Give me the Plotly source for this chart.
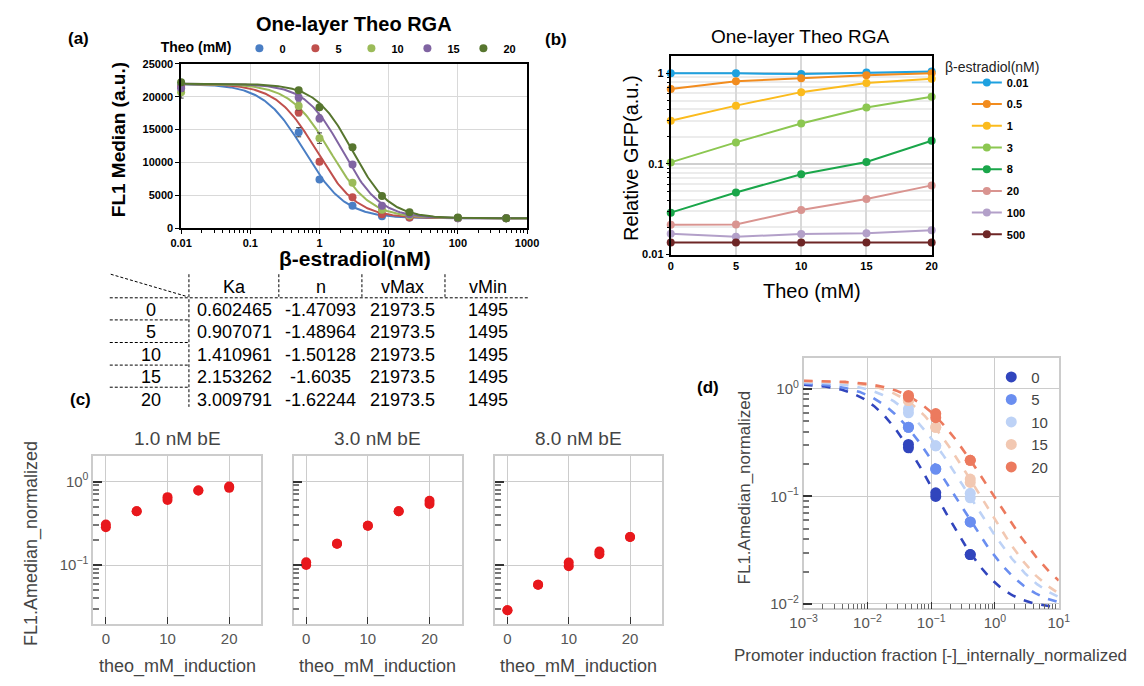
import numpy as np
import plotly.graph_objects as go

W, H = 1144, 686
FONT = "Liberation Sans, Arial, sans-serif"


def px(x):
    return x / W


def py(y):
    return 1 - y / H


# ---------------- Panel (a) data ----------------
be_conc = [0.01, 0.5, 1, 3, 8, 20, 100, 500]
theo_levels = ["0", "5", "10", "15", "20"]
fl1_theo0 = [21800, 14600, 7400, 3400, 1800, 1600, 1500, 1500]
fl1_theo5 = [21500, 17600, 10100, 4700, 2100, 1600, 1500, 1500]
fl1_theo10 = [20700, 18600, 13700, 6900, 2800, 1900, 1550, 1500]
fl1_theo15 = [21300, 19900, 16700, 9700, 3400, 2100, 1550, 1500]
fl1_theo20 = [22200, 21000, 18400, 12300, 4900, 2400, 1600, 1500]
err_theo0 = [400, 700, 300, 300, 200, 100, 100, 100]
err_theo5 = [300, 500, 400, 300, 200, 100, 100, 100]
err_theo10 = [900, 600, 800, 300, 200, 100, 100, 100]
err_theo15 = [500, 500, 500, 300, 200, 100, 100, 100]
err_theo20 = [400, 300, 300, 400, 200, 200, 100, 100]
colors_a = ["#4a7ec4", "#c0504d", "#9bbb59", "#8064a2", "#57762f"]

# fit table
table_header = ["Ka", "n", "vMax", "vMin"]
table_theo = ["0", "5", "10", "15", "20"]
fit_ka = [0.602465, 0.907071, 1.410961, 2.153262, 3.009791]
fit_n = [-1.47093, -1.48964, -1.50128, -1.6035, -1.62244]
fit_vmax = [21973.5, 21973.5, 21973.5, 21973.5, 21973.5]
fit_vmin = [1495, 1495, 1495, 1495, 1495]

# ---------------- Panel (b) data ----------------
theo_b = [0, 5, 10, 15, 20]
be_labels_b = ["0.01", "0.5", "1", "3", "8", "20", "100", "500"]
gfp_be001 = [1.0, 1.0, 0.98, 1.02, 1.05]
gfp_be05 = [0.67, 0.82, 0.88, 0.95, 1.0]
gfp_be1 = [0.30, 0.44, 0.62, 0.78, 0.87]
gfp_be3 = [0.104, 0.173, 0.28, 0.42, 0.55]
gfp_be8 = [0.029, 0.0485, 0.077, 0.105, 0.18]
gfp_be20 = [0.0213, 0.0215, 0.031, 0.041, 0.058]
gfp_be100 = [0.017, 0.0157, 0.0169, 0.0172, 0.0185]
gfp_be500 = [0.0136, 0.0136, 0.0136, 0.0136, 0.0136]
colors_b = ["#1ea1e0", "#f28c1e", "#fbbb1d", "#8cc751", "#1aa64a",
            "#d99490", "#b3a0c9", "#6e2626"]

# ---------------- Panel (c) data ----------------
theo_c = [0, 5, 10, 15, 20]
c_titles = ["1.0 nM bE", "3.0 nM bE", "8.0 nM bE"]
norm_1nM_rep1 = [0.283, 0.44, 0.60, 0.78, 0.84]
norm_1nM_rep2 = [0.305, 0.44, 0.65, 0.78, 0.87]
norm_3nM_rep1 = [0.100, 0.18, 0.296, 0.44, 0.54]
norm_3nM_rep2 = [0.108, 0.18, 0.296, 0.44, 0.59]
norm_8nM_rep1 = [0.0288, 0.058, 0.097, 0.135, 0.217]
norm_8nM_rep2 = [0.0288, 0.058, 0.107, 0.145, 0.217]

# ---------------- Panel (d) data ----------------
induction_frac = [0.044, 0.118, 0.41]  # for 1, 3, 8 nM bE
d_top = [1.12, 1.15, 1.17, 1.19, 1.20]
d_bottom = [0.009, 0.009, 0.009, 0.009, 0.009]
d_K = [0.0184, 0.0275, 0.0455, 0.0709, 0.101]
d_n = [1.275, 1.14, 1.13, 1.17, 1.10]
colors_d = ["#3145bd", "#6a8ef0", "#bdd2f6", "#f2c8b2", "#ec7a5e"]

fig = go.Figure()

# ---------- (a) traces ----------
fl1_all = [fl1_theo0, fl1_theo5, fl1_theo10, fl1_theo15, fl1_theo20]
err_all = [err_theo0, err_theo5, err_theo10, err_theo15, err_theo20]
xs_fit = np.logspace(-2, 3, 300)
for i in range(5):
    yfit = fit_vmin[i] + (fit_vmax[i] - fit_vmin[i]) / (1 + (xs_fit / fit_ka[i]) ** (-fit_n[i]))
    fig.add_trace(go.Scatter(x=xs_fit, y=yfit, mode="lines", xaxis="x", yaxis="y",
                             line=dict(color=colors_a[i], width=2), showlegend=False,
                             hoverinfo="skip"))
for i in range(5):
    fig.add_trace(go.Scatter(x=be_conc, y=fl1_all[i], mode="markers", xaxis="x", yaxis="y",
                             name=theo_levels[i], legend="legend",
                             marker=dict(color=colors_a[i], size=8),
                             error_y=dict(type="data", array=err_all[i], color="#404040",
                                          thickness=1, width=2.5),
                             cliponaxis=False))

# ---------- (b) traces ----------
gfp_all = [gfp_be001, gfp_be05, gfp_be1, gfp_be3, gfp_be8, gfp_be20, gfp_be100, gfp_be500]
for i in range(8):
    fig.add_trace(go.Scatter(x=theo_b, y=gfp_all[i], mode="lines+markers", xaxis="x2", yaxis="y2",
                             name=be_labels_b[i], legend="legend2", legendgroup="b%d" % i,
                             line=dict(color=colors_b[i], width=2),
                             marker=dict(color=colors_b[i], size=8),
                             cliponaxis=False))

# ---------- (c) traces ----------
reps = [(norm_1nM_rep1, norm_1nM_rep2), (norm_3nM_rep1, norm_3nM_rep2), (norm_8nM_rep1, norm_8nM_rep2)]
for k in range(3):
    for rep in reps[k]:
        fig.add_trace(go.Scatter(x=theo_c, y=rep, mode="markers", xaxis="x%d" % (3 + k),
                                 yaxis="y%d" % (3 + k), showlegend=False,
                                 marker=dict(color="#e8181c", size=10), cliponaxis=False))

# ---------- (d) traces ----------
xs_d = np.logspace(-3, 1, 300)
for i in range(5):
    yd = d_bottom[i] + (d_top[i] - d_bottom[i]) / (1 + (xs_d / d_K[i]) ** d_n[i])
    fig.add_trace(go.Scatter(x=xs_d, y=yd, mode="lines", xaxis="x6", yaxis="y6",
                             line=dict(color=colors_d[i], width=2.6, dash="dash"),
                             showlegend=False, hoverinfo="skip"))
for i in range(5):
    for r in range(2):
        yv = [reps[k][r][i] for k in range(3)]
        fig.add_trace(go.Scatter(x=induction_frac, y=yv, mode="markers", xaxis="x6", yaxis="y6",
                                 name=theo_levels[i], legend="legend3", showlegend=(r == 0),
                                 legendgroup="d%d" % i,
                                 marker=dict(color=colors_d[i], size=11), cliponaxis=False))

# ---------- axes ----------
def logminor(lo, hi):
    return [m * 10.0 ** e for e in range(lo, hi) for m in range(2, 10)]


bold = dict(family=FONT, size=11, color="black", weight="bold")
layout = dict(
    width=W, height=H, margin=dict(l=0, r=0, t=0, b=0),
    paper_bgcolor="white", plot_bgcolor="white",
    font=dict(family=FONT, color="black"),
    showlegend=True,
)

# (a)
layout["xaxis"] = dict(domain=[px(171), px(525)], anchor="y", type="log", range=[-2, 3],
                       tickvals=[0.01, 0.1, 1, 10, 100, 1000],
                       ticktext=["0.01", "0.1", "1", "10", "100", "1000"],
                       tickfont=bold, ticks="outside", ticklen=4, tickcolor="black",
                       showgrid=True, gridcolor="#d9d9d9", gridwidth=1,
                       showline=True, linecolor="black", linewidth=1.5, mirror=True,
                       minor=dict(tickvals=logminor(-2, 3), ticks="outside", ticklen=3,
                                  tickcolor="black", showgrid=False),
                       zeroline=False)
layout["yaxis"] = dict(domain=[py(226), py(59)], anchor="x", range=[0, 25000], dtick=5000,
                       tickformat="d", tickfont=bold, ticks="outside", ticklen=4, tickcolor="black",
                       showgrid=True, gridcolor="#d9d9d9", gridwidth=1,
                       showline=True, linecolor="black", linewidth=1.5, mirror=True,
                       zeroline=False)

# (b)
layout["xaxis2"] = dict(domain=[px(672), px(939)], anchor="y2", range=[0, 20],
                        tickvals=[0, 5, 10, 15, 20], tickfont=bold, ticks="",
                        showgrid=True, gridcolor="#d9d9d9", gridwidth=2,
                        showline=True, linecolor="black", linewidth=2, mirror=True,
                        zeroline=False)
layout["yaxis2"] = dict(domain=[py(253), py(51)], anchor="x2", type="log", range=[-2, 0.19],
                        tickvals=[0.01, 0.1, 1], ticktext=["0.01", "0.1", "1"], tickfont=bold,
                        ticks="outside", ticklen=3, tickcolor="black",
                        showgrid=True, gridcolor="#cfcfcf", gridwidth=1.5,
                        minor=dict(tickvals=logminor(-2, 1), ticks="outside", ticklen=2,
                                   tickcolor="black", showgrid=True, gridcolor="#ececec",
                                   gridwidth=1.5),
                        showline=True, linecolor="black", linewidth=2, mirror=True,
                        zeroline=False)

# (c)
c_dom = [(81, 253), (286, 458), (492, 663)]
tick_gray = dict(family=FONT, size=15, color="#555555")
for k in range(3):
    xa = "xaxis%d" % (3 + k)
    ya = "yaxis%d" % (3 + k)
    layout[xa] = dict(domain=[px(c_dom[k][0]), px(c_dom[k][1])], anchor="y%d" % (3 + k),
                      range=[-2.06, 25.2], tickvals=[0, 10, 20], tickfont=tick_gray,
                      ticks="inside", ticklen=7, tickcolor="#333333", tickwidth=1.2,
                      showgrid=True, gridcolor="#cccccc", gridwidth=1.2,
                      showline=True, linecolor="#cccccc", linewidth=1.5, mirror=True,
                      zeroline=False)
    layout[ya] = dict(domain=[py(629), py(458)], anchor="x%d" % (3 + k), type="log",
                      range=[-1.706, 0.306], tickvals=[0.1, 1],
                      ticktext=["10<sup>\u22121</sup>", "10<sup>0</sup>"] if k == 0 else ["", ""],
                      tickfont=tick_gray, ticks="inside", ticklen=9, tickcolor="#333333",
                      tickwidth=1.5,
                      showgrid=True, gridcolor="#cccccc", gridwidth=1.2,
                      minor=dict(tickvals=logminor(-2, 1), ticks="inside", ticklen=6,
                                 tickcolor="#777777", showgrid=False),
                      showline=True, linecolor="#cccccc", linewidth=1.5, mirror=True,
                      zeroline=False)

# (d)
layout["xaxis6"] = dict(domain=[px(808), px(1069)], anchor="y6", type="log", range=[-3, 1],
                        tickvals=[0.001, 0.01, 0.1, 1, 10],
                        ticktext=["10<sup>\u22123</sup>", "10<sup>\u22122</sup>", "10<sup>\u22121</sup>",
                                  "10<sup>0</sup>", "10<sup>1</sup>"],
                        tickfont=tick_gray, ticks="inside", ticklen=7, tickcolor="#333333",
                        showgrid=True, gridcolor="#cccccc", gridwidth=1.2,
                        minor=dict(tickvals=logminor(-3, 1), ticks="inside", ticklen=5,
                                   tickcolor="#666666", showgrid=False),
                        showline=True, linecolor="#cccccc", linewidth=1.5, mirror=True,
                        zeroline=False)
layout["yaxis6"] = dict(domain=[py(613), py(358)], anchor="x6", type="log", range=[-2.04, 0.29],
                        tickvals=[0.01, 0.1, 1],
                        ticktext=["10<sup>\u22122</sup>", "10<sup>\u22121</sup>", "10<sup>0</sup>"],
                        tickfont=tick_gray, ticks="inside", ticklen=9, tickcolor="#333333",
                        tickwidth=1.5,
                        showgrid=True, gridcolor="#cccccc", gridwidth=1.2,
                        minor=dict(tickvals=logminor(-2, 1), ticks="inside", ticklen=6,
                                   tickcolor="#777777", showgrid=False),
                        showline=True, linecolor="#cccccc", linewidth=1.5, mirror=True,
                        zeroline=False)

# ---------- legends ----------
layout["legend"] = dict(orientation="h", x=px(148), y=py(43), xanchor="left", yanchor="middle",
                        title=dict(text="Theo (mM)", side="left",
                                   font=dict(family=FONT, size=14, weight="bold")),
                        font=dict(family=FONT, size=11, weight="bold"),
                        entrywidth=11, bgcolor="rgba(0,0,0,0)", itemwidth=30)
layout["legend2"] = dict(orientation="v", x=px(975), y=py(63), xanchor="left", yanchor="top",
                         font=dict(family=FONT, size=11, weight="bold"),
                         tracegroupgap=2.7, bgcolor="rgba(0,0,0,0)", itemwidth=30)
layout["legend3"] = dict(orientation="v", x=px(1000), y=py(361), xanchor="left", yanchor="top",
                         font=dict(family=FONT, size=15, color="#444444"),
                         tracegroupgap=0, bgcolor="rgba(0,0,0,0)", itemwidth=30)

# ---------- annotations ----------
anns = []


def ann(text, x, y, size, bold_=False, color="black", angle=0, xanchor="center"):
    anns.append(dict(text=text, x=px(x), y=py(y), xref="paper", yref="paper",
                     xanchor=xanchor, yanchor="middle", showarrow=False, textangle=angle,
                     font=dict(family=FONT, size=size, color=color,
                               weight="bold" if bold_ else "normal")))


ann("(a)", 66, 33, 17, True)
ann("(b)", 555, 34, 17, True)
ann("(c)", 68, 401, 17, True)
ann("(d)", 710, 388, 17, True)
ann("One-layer Theo RGA", 348, 18, 20, True)
ann("FL1 Median (a.u.)", 107, 136, 19, True, angle=-90)
ann("\u03b2-estradiol(nM)", 349, 257, 21, True)
ann("One-layer Theo RGA", 804, 31, 19)
ann("Relative GFP(a.u.)", 632, 155, 20, angle=-90)
ann("Theo (mM)", 817, 290, 20)
ann("\u03b2-estradiol(nM)", 951, 62, 14, color="#222222", xanchor="left")
# (c)
for k in range(3):
    cx = (c_dom[k][0] + c_dom[k][1]) / 2
    ann(c_titles[k], cx, 440, 19, color="#444444")
    ann("theo_mM_induction", cx, 672, 18, color="#444444")
ann("FL1.Amedian_normalized", 18, 547, 18, color="#444444", angle=-90)
# (d)
ann("FL1.Amedian_normalized", 747, 490, 17, color="#444444", angle=-90)
ann("Promoter induction fraction [-]_internally_normalized", 938, 661, 17, color="#444444")

# table text
col_x = [226, 314, 398, 485]
row_y = [309, 332, 355, 378, 401]
for j, h in enumerate(table_header):
    ann(h, col_x[j], 286, 18)
for r in range(5):
    ann(table_theo[r], 140, row_y[r], 18)
    ann("{:.6f}".format(fit_ka[r]), col_x[0], row_y[r], 18)
    ann("{:g}".format(fit_n[r]), col_x[1], row_y[r], 18)
    ann("{:g}".format(fit_vmax[r]), col_x[2], row_y[r], 18)
    ann("{:g}".format(fit_vmin[r]), col_x[3], row_y[r], 18)
layout["annotations"] = anns

# table lines
shapes = []


def dline(x0, y0, x1, y1):
    shapes.append(dict(type="line", xref="paper", yref="paper", x0=px(x0), y0=py(y0),
                       x1=px(x1), y1=py(y1), line=dict(color="black", width=1, dash="3px,2px")))


dline(98, 297, 527, 297)
dline(99, 273, 178, 296)
dline(179, 273, 179, 408)
for xv in [271, 356, 441]:
    dline(xv, 273, xv, 296)
for yv in [319.5, 342.5, 365.5, 388]:
    dline(98, yv, 178, yv)
layout["shapes"] = shapes

fig.update_layout(**layout)
fig.write_html("out.html")
